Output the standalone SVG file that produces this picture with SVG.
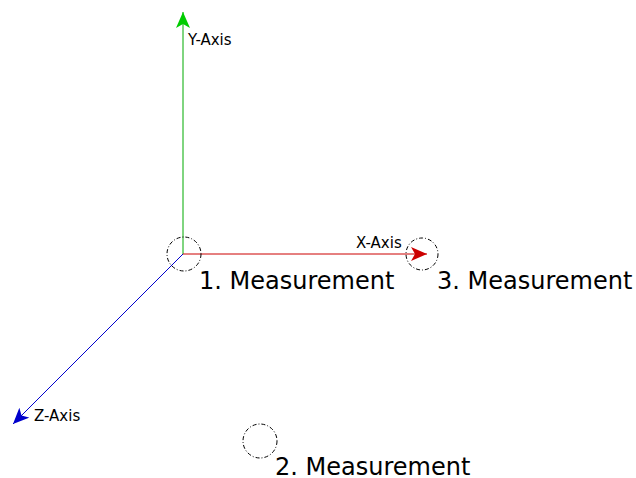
<svg xmlns="http://www.w3.org/2000/svg" width="636" height="478" viewBox="0 0 636 478">
<style>
.lbl{font-family:"DejaVu Sans",sans-serif;font-size:24px;fill:#000}
.ax{font-family:"DejaVu Sans",sans-serif;font-size:15px;fill:#000}
.pt{fill:none;stroke:#000;stroke-width:1;stroke-dasharray:4,2,1,2}
</style>
<defs>
<marker id="ag" markerWidth="16" markerHeight="14" refX="16" refY="7" orient="auto" markerUnits="userSpaceOnUse"><path d="M0,0 L16,7 L0,14 L4,7 Z" fill="#00cc00"/></marker>
<marker id="ar" markerWidth="16" markerHeight="14" refX="16" refY="7" orient="auto" markerUnits="userSpaceOnUse"><path d="M0,0 L16,7 L0,14 L4,7 Z" fill="#cc0000"/></marker>
<marker id="ab" markerWidth="16" markerHeight="14" refX="16" refY="7" orient="auto" markerUnits="userSpaceOnUse"><path d="M0,0 L16,7 L0,14 L4,7 Z" fill="#0000cc"/></marker>
</defs>
<g id="connectors">
<line x1="183" y1="254" x2="183" y2="12" stroke="#00aa00" stroke-width="1" marker-end="url(#ag)"/>
<line x1="183" y1="254" x2="427" y2="254" stroke="#cc0000" stroke-width="1" marker-end="url(#ar)"/>
<line x1="183" y1="254" x2="13" y2="424" stroke="#0000cc" stroke-width="1" marker-end="url(#ab)"/>
</g>
<g id="y-axis-label"><text class="ax" x="188" y="45">Y-Axis</text></g>
<g id="x-axis-label"><text class="ax" x="356" y="248">X-Axis</text></g>
<g id="z-axis-label"><text class="ax" x="34" y="421">Z-Axis</text></g>
<g id="m1"><circle class="pt" cx="184" cy="254" r="17"/><text class="lbl" x="199" y="289">1. Measurement</text></g>
<g id="m3"><circle class="pt" cx="422" cy="254" r="16"/><text class="lbl" x="437" y="289">3. Measurement</text></g>
<g id="m2"><circle class="pt" cx="260" cy="441" r="17"/><text class="lbl" x="275" y="475">2. Measurement</text></g>
</svg>
